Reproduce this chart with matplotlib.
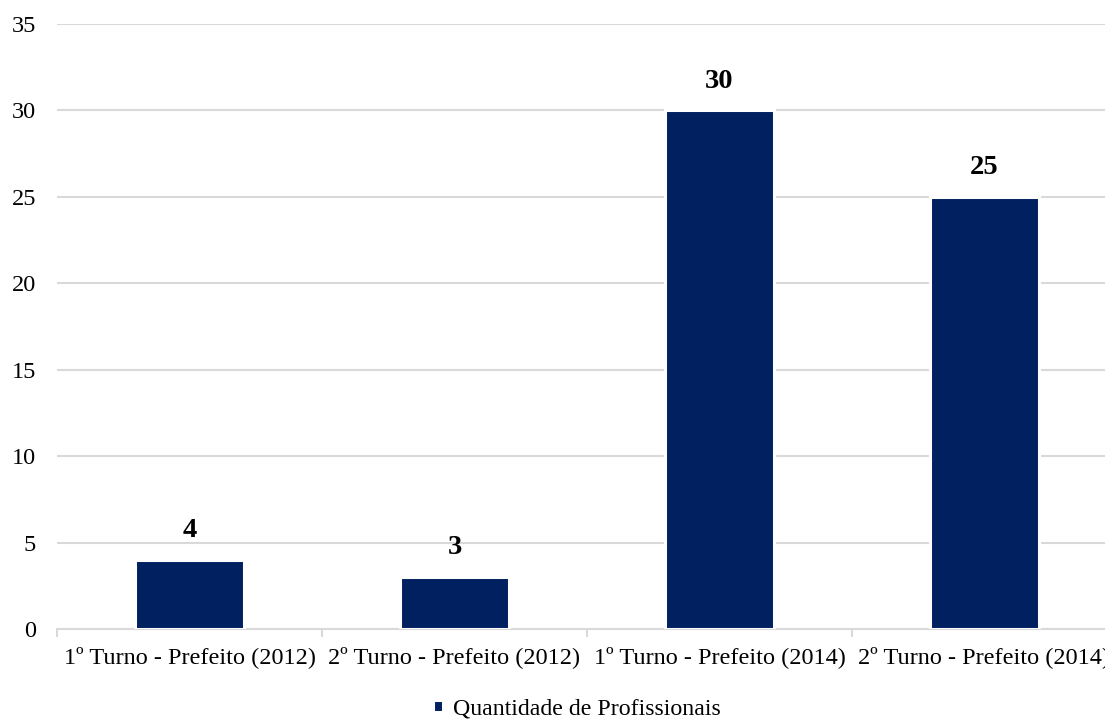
import matplotlib
matplotlib.use("Agg")
import matplotlib.pyplot as plt
import numpy as np

categories = ["1º Turno - Prefeito (2012)", "2º Turno - Prefeito (2012)",
              "1º Turno - Prefeito (2014)", "2º Turno - Prefeito (2014)"]
values = [4, 3, 30, 25]
series_name = "Quantidade de Profissionais"
yticks = [0, 5, 10, 15, 20, 25, 30, 35]

plt.rcParams['font.family'] = ['Liberation Serif', 'DejaVu Serif']

bar_color = "#002060"
grid_color = "#d9d9d9"

fig = plt.figure(figsize=(11.05, 7.2), dpi=100)
ax = fig.add_axes([57 / 1105, 91 / 720, 1060 / 1105, 605 / 720])

x = np.arange(len(categories))
bars = ax.bar(x, values, width=0.41, color=bar_color, edgecolor="white",
              linewidth=2.2, zorder=3, label=series_name)

for xi, v in zip(x, values):
    ax.annotate(str(v), (xi, v), xytext=(0, 12), textcoords="offset points",
                ha="center", va="bottom", fontsize=20.5, fontweight="bold")

ax.set_xlim(-0.5, len(categories) - 0.5)
ax.set_ylim(0, 35)
ax.set_yticks(yticks)
ax.yaxis.grid(True, color=grid_color, linewidth=1.5, zorder=0)
ax.set_axisbelow(True)

for side in ["top", "right", "left"]:
    ax.spines[side].set_visible(False)
ax.spines["bottom"].set_color(grid_color)
ax.spines["bottom"].set_linewidth(1.5)

ax.tick_params(axis="y", length=0, labelsize=17.5, pad=15)
ax.set_xticks(x)
ax.set_xticklabels(categories, fontsize=17.5)
ax.tick_params(axis="x", length=0, pad=12)
# separator ticks between categories
ax.set_xticks(np.arange(-0.5, len(categories)), minor=True)
ax.tick_params(axis="x", which="minor", length=6, color=grid_color, width=1.5)

leg = fig.legend(handles=[bars], labels=[series_name], loc="center",
                 bbox_to_anchor=(577 / 1105, 1 - 709 / 720), frameon=False,
                 fontsize=17.2, handlelength=0.42, handleheight=0.42,
                 handletextpad=0.4)

fig.savefig("out.png", dpi=100)
